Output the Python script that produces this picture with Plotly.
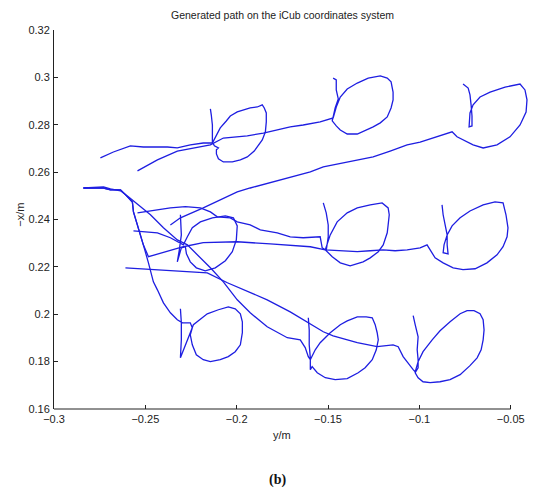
import plotly.graph_objects as go

# Horizontal axis values: y/m ; vertical axis values: -x/m
top_left_y = [-0.2746, -0.2675, -0.2582, -0.2511, -0.2379, -0.2325, -0.2254, -0.2183, -0.2133,
              -0.2111, -0.2090, -0.2057, -0.2035, -0.1997, -0.1964, -0.1926, -0.1887, -0.1860,
              -0.1849, -0.1838, -0.1838, -0.1843, -0.1860, -0.1882, -0.1904, -0.1942, -0.1980,
              -0.2024, -0.2073, -0.2100, -0.2111, -0.2111, -0.2100, -0.2122, -0.2133, -0.2133,
              -0.2133, -0.2139, -0.2144]
top_left_x = [0.2660, 0.2685, 0.2711, 0.2706, 0.2706, 0.2702, 0.2715, 0.2723, 0.2723,
              0.2757, 0.2787, 0.2816, 0.2837, 0.2854, 0.2862, 0.2871, 0.2875, 0.2884,
              0.2871, 0.2850, 0.2812, 0.2770, 0.2736, 0.2711, 0.2689, 0.2664, 0.2652,
              0.2643, 0.2643, 0.2656, 0.2677, 0.2694, 0.2702, 0.2711, 0.2727, 0.2757,
              0.2799, 0.2841, 0.2867]

top_mid_y = [-0.2543, -0.2434, -0.2325, -0.2215, -0.2144, -0.2073, -0.2018, -0.1942, -0.1854,
             -0.1707, -0.1636, -0.1543, -0.1472, -0.1455, -0.1433, -0.1395, -0.1340, -0.1280,
             -0.1214, -0.1176, -0.1155, -0.1144, -0.1144, -0.1155, -0.1176, -0.1214, -0.1253,
             -0.1308, -0.1340, -0.1395, -0.1433, -0.1455, -0.1477, -0.1472, -0.1461, -0.1444,
             -0.1455, -0.1455, -0.1472]
top_mid_x = [0.2605, 0.2652, 0.2689, 0.2706, 0.2715, 0.2744, 0.2749, 0.2753, 0.2765,
             0.2791, 0.2799, 0.2812, 0.2829, 0.2875, 0.2917, 0.2951, 0.2976, 0.2997,
             0.3006, 0.2997, 0.2981, 0.2938, 0.2905, 0.2871, 0.2833, 0.2808, 0.2791,
             0.2770, 0.2761, 0.2761, 0.2778, 0.2795, 0.2816, 0.2833, 0.2871, 0.2909,
             0.2947, 0.2989, 0.2997]

top_right_y = [-0.2363, -0.2308, -0.2183, -0.1997, -0.1926, -0.1800, -0.1707, -0.1597, -0.1526,
               -0.1379, -0.1253, -0.1160, -0.1067, -0.0996, -0.0925, -0.0859, -0.0821, -0.0794,
               -0.0750, -0.0706, -0.0651, -0.0575, -0.0504, -0.0449, -0.0416, -0.0411, -0.0422,
               -0.0449, -0.0531, -0.0613, -0.0668, -0.0706, -0.0723, -0.0728, -0.0712, -0.0712,
               -0.0717, -0.0723, -0.0733, -0.0761]
top_right_x = [0.2377, 0.2407, 0.2449, 0.2517, 0.2533, 0.2559, 0.2580, 0.2601, 0.2622,
               0.2643, 0.2664, 0.2689, 0.2715, 0.2727, 0.2744, 0.2761, 0.2770, 0.2749,
               0.2732, 0.2715, 0.2702, 0.2715, 0.2749, 0.2799, 0.2854, 0.2905, 0.2947,
               0.2972, 0.2959, 0.2938, 0.2917, 0.2884, 0.2850, 0.2791, 0.2795, 0.2837,
               0.2884, 0.2926, 0.2955, 0.2972]

mid_left_y = [-0.2565, -0.2434, -0.2363, -0.2308, -0.2292, -0.2270, -0.2243, -0.2199, -0.2133,
              -0.2062, -0.2018, -0.1997, -0.2002, -0.2024, -0.2062, -0.2117, -0.2172, -0.2221,
              -0.2254, -0.2275, -0.2281, -0.2303, -0.2325, -0.2314, -0.2303, -0.2308]
mid_left_x = [0.2352, 0.2344, 0.2323, 0.2302, 0.2293, 0.2327, 0.2365, 0.2390, 0.2407,
              0.2415, 0.2407, 0.2373, 0.2314, 0.2264, 0.2226, 0.2196, 0.2183, 0.2196,
              0.2221, 0.2255, 0.2285, 0.2280, 0.2221, 0.2272, 0.2335, 0.2420]

mid_mid_y = [-0.2543, -0.2445, -0.2363, -0.2281, -0.2199, -0.2144, -0.2106, -0.2035, -0.1997,
             -0.1926, -0.1871, -0.1778, -0.1707, -0.1636, -0.1543, -0.1532, -0.1515, -0.1488,
             -0.1450, -0.1395, -0.1340, -0.1269, -0.1204, -0.1171, -0.1165, -0.1171, -0.1176,
             -0.1198, -0.1225, -0.1269, -0.1308, -0.1379, -0.1433, -0.1477, -0.1510, -0.1499,
             -0.1499, -0.1510, -0.1526]
mid_mid_x = [0.2428, 0.2441, 0.2449, 0.2454, 0.2449, 0.2432, 0.2411, 0.2407, 0.2390,
             0.2377, 0.2356, 0.2344, 0.2327, 0.2323, 0.2327, 0.2280, 0.2272, 0.2335,
             0.2390, 0.2428, 0.2449, 0.2462, 0.2470, 0.2449, 0.2420, 0.2377, 0.2344,
             0.2293, 0.2264, 0.2238, 0.2221, 0.2204, 0.2217, 0.2243, 0.2268, 0.2327,
             0.2377, 0.2428, 0.2470]

mid_right_y = [-0.2839, -0.2729, -0.2691, -0.2636, -0.2609, -0.2571, -0.2565, -0.2538, -0.2511,
               -0.2483, -0.2401, -0.2292, -0.2183, -0.1997, -0.1816, -0.1597, -0.1515, -0.1433,
               -0.1340, -0.1269, -0.1198, -0.1133, -0.1067, -0.0996, -0.0958, -0.0941, -0.0914,
               -0.0870, -0.0815, -0.0761, -0.0695, -0.0630, -0.0575, -0.0542, -0.0520, -0.0515,
               -0.0526, -0.0542, -0.0586, -0.0651, -0.0723, -0.0777, -0.0821, -0.0848, -0.0865,
               -0.0870, -0.0843, -0.0848, -0.0848, -0.0859, -0.0870, -0.0876]
mid_right_x = [0.2533, 0.2533, 0.2525, 0.2525, 0.2505, 0.2474, 0.2432, 0.2365, 0.2293,
               0.2243, 0.2260, 0.2285, 0.2302, 0.2306, 0.2297, 0.2285, 0.2272, 0.2268,
               0.2264, 0.2268, 0.2272, 0.2268, 0.2272, 0.2280, 0.2293, 0.2272, 0.2238,
               0.2217, 0.2196, 0.2188, 0.2192, 0.2217, 0.2251, 0.2285, 0.2327, 0.2365,
               0.2420, 0.2470, 0.2474, 0.2462, 0.2436, 0.2407, 0.2373, 0.2335, 0.2293,
               0.2260, 0.2255, 0.2293, 0.2335, 0.2377, 0.2420, 0.2462]

bot_left_y = [-0.2839, -0.2729, -0.2691, -0.2636, -0.2609, -0.2571, -0.2565, -0.2538, -0.2511,
              -0.2483, -0.2456, -0.2434, -0.2401, -0.2363, -0.2325, -0.2297, -0.2254, -0.2243,
              -0.2254, -0.2243, -0.2221, -0.2183, -0.2144, -0.2090, -0.2046, -0.2008, -0.1980,
              -0.1969, -0.1969, -0.1980, -0.2008, -0.2046, -0.2100, -0.2161, -0.2204, -0.2237,
              -0.2254, -0.2292, -0.2308, -0.2303, -0.2303, -0.2308]
bot_left_x = [0.2533, 0.2533, 0.2525, 0.2525, 0.2505, 0.2474, 0.2432, 0.2365, 0.2293,
              0.2217, 0.2137, 0.2103, 0.2048, 0.2006, 0.1977, 0.1964, 0.1964, 0.1943,
              0.1913, 0.1871, 0.1829, 0.1808, 0.1800, 0.1808, 0.1821, 0.1842, 0.1871,
              0.1922, 0.1968, 0.2002, 0.2023, 0.2031, 0.2019, 0.2002, 0.1977, 0.1956,
              0.1922, 0.1850, 0.1816, 0.1892, 0.1964, 0.2023]

bot_mid_y = [-0.2839, -0.2729, -0.2691, -0.2636, -0.2593, -0.2527, -0.2472, -0.2401, -0.2325,
             -0.2270, -0.2215, -0.2144, -0.2073, -0.1997, -0.1926, -0.1833, -0.1723, -0.1652,
             -0.1625, -0.1608, -0.1597, -0.1570, -0.1543, -0.1488, -0.1433, -0.1395, -0.1340,
             -0.1291, -0.1258, -0.1242, -0.1231, -0.1225, -0.1236, -0.1258, -0.1297, -0.1335,
             -0.1395, -0.1461, -0.1515, -0.1559, -0.1587, -0.1597, -0.1597, -0.1603, -0.1603,
             -0.1608]
bot_mid_x = [0.2533, 0.2538, 0.2529, 0.2521, 0.2496, 0.2454, 0.2420, 0.2365, 0.2314,
             0.2293, 0.2251, 0.2196, 0.2137, 0.2061, 0.2006, 0.1947, 0.1901, 0.1892,
             0.1859, 0.1821, 0.1808, 0.1850, 0.1880, 0.1922, 0.1956, 0.1972, 0.1989,
             0.1989, 0.1985, 0.1956, 0.1922, 0.1892, 0.1850, 0.1808, 0.1774, 0.1753,
             0.1728, 0.1724, 0.1732, 0.1753, 0.1779, 0.1766, 0.1816, 0.1871, 0.1934,
             0.1985]

bot_right_y = [-0.2609, -0.2418, -0.2161, -0.2051, -0.1833, -0.1707, -0.1597, -0.1526, -0.1472,
               -0.1340, -0.1231, -0.1144, -0.1116, -0.1089, -0.1034, -0.1023, -0.1007, -0.0980,
               -0.0930, -0.0887, -0.0832, -0.0777, -0.0739, -0.0701, -0.0668, -0.0651, -0.0646,
               -0.0651, -0.0662, -0.0684, -0.0723, -0.0777, -0.0832, -0.0887, -0.0941, -0.0980,
               -0.1007, -0.1023, -0.1007, -0.1007, -0.1012, -0.1007, -0.1023, -0.1034]
bot_right_x = [0.2196, 0.2188, 0.2175, 0.2133, 0.2061, 0.2010, 0.1960, 0.1926, 0.1909,
               0.1880, 0.1863, 0.1871, 0.1863, 0.1821, 0.1766, 0.1757, 0.1800, 0.1842,
               0.1892, 0.1930, 0.1968, 0.2002, 0.2015, 0.2015, 0.2002, 0.1977, 0.1934,
               0.1892, 0.1850, 0.1816, 0.1783, 0.1745, 0.1724, 0.1715, 0.1711, 0.1715,
               0.1732, 0.1753, 0.1774, 0.1808, 0.1850, 0.1905, 0.1956, 0.1994]

paths = [
    (top_left_y, top_left_x), (top_mid_y, top_mid_x), (top_right_y, top_right_x),
    (mid_left_y, mid_left_x), (mid_mid_y, mid_mid_x), (mid_right_y, mid_right_x),
    (bot_left_y, bot_left_x), (bot_mid_y, bot_mid_x), (bot_right_y, bot_right_x),
]

x_ticks = [-0.3, -0.25, -0.2, -0.15, -0.1, -0.05]
x_tick_text = ["\u22120.3", "\u22120.25", "\u22120.2", "\u22120.15", "\u22120.1", "\u22120.05"]
y_ticks = [0.16, 0.18, 0.2, 0.22, 0.24, 0.26, 0.28, 0.3, 0.32]
y_tick_text = ["0.16", "0.18", "0.2", "0.22", "0.24", "0.26", "0.28", "0.3", "0.32"]

LINE = "rgb(30,30,225)"
FONT = "Liberation Sans, Arial, sans-serif"

fig = go.Figure()
for hx, vy in paths:
    fig.add_trace(go.Scatter(x=hx, y=vy, mode="lines",
                             line=dict(color=LINE, width=1.3), hoverinfo="skip",
                             showlegend=False))

# page body has an 8px margin, so the figure is sized to fill the rest of the window
fig.update_layout(
    width=546, height=484,
    margin=dict(l=46, r=25, t=22, b=83),
    paper_bgcolor="white", plot_bgcolor="white",
    font=dict(family=FONT, size=11, color="#222"),
    xaxis=dict(range=[-0.3, -0.04], tickvals=x_ticks, ticktext=x_tick_text,
               ticks="inside", ticklen=4, tickcolor="#222", showline=False,
               showgrid=False, zeroline=False, ticklabelstandoff=2),
    yaxis=dict(range=[0.16, 0.32], tickvals=y_ticks, ticktext=y_tick_text,
               ticks="inside", ticklen=4, tickcolor="#222", showline=True,
               linecolor="#222", linewidth=1, showgrid=False, zeroline=False,
               ticklabelstandoff=1),
    shapes=[dict(type="line", xref="x", yref="paper", x0=-0.3, x1=-0.05, y0=0, y1=0,
                 line=dict(color="#222", width=1))],
    annotations=[
        dict(text="Generated path on the iCub coordinates system", xref="x", yref="paper",
             x=-0.175, y=1.0396, xanchor="center", yanchor="middle", showarrow=False,
             font=dict(size=10.5)),
        dict(text="y/m", xref="x", yref="paper", x=-0.175, y=-0.0678,
             xanchor="center", yanchor="middle", showarrow=False, font=dict(size=11)),
        dict(text="\u2212x/m", xref="paper", yref="paper", x=-0.0716, y=0.5127,
             xanchor="center", yanchor="middle", showarrow=False, textangle=-90,
             font=dict(size=11)),
        dict(text="<b>(b)</b>", xref="paper", yref="paper", x=0.4695, y=-0.187,
             xanchor="center", yanchor="middle", showarrow=False,
             font=dict(family="Liberation Serif, Times New Roman, serif", size=14, color="#111")),
    ],
)

fig.write_html("out.html")
